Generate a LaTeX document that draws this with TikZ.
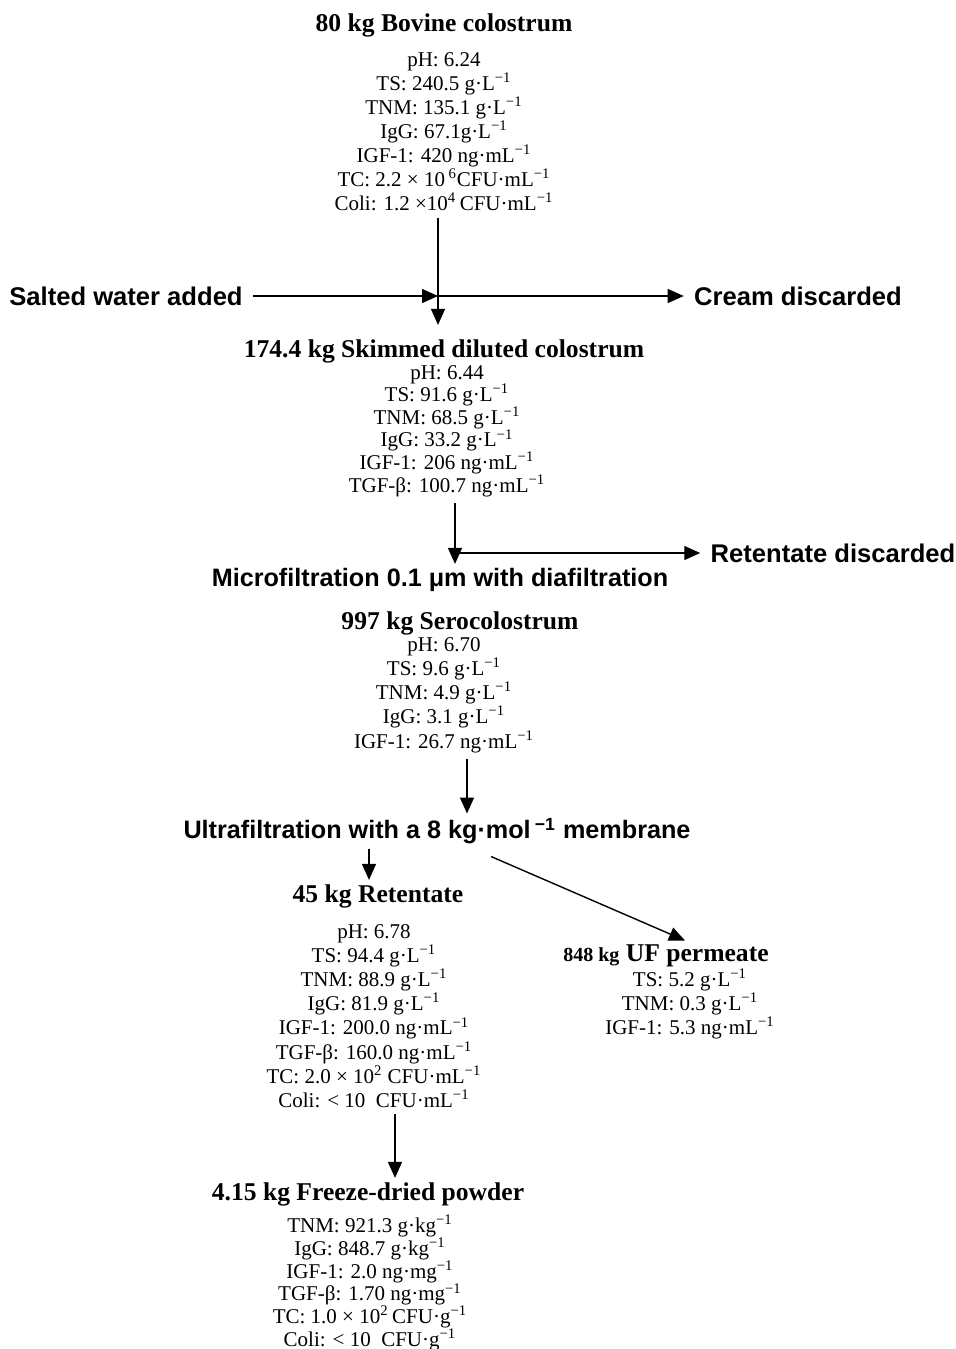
\documentclass[tikz,border=0pt]{standalone}
\usepackage{fontspec}
\setmainfont{Liberation Serif}
\setsansfont{Liberation Sans}
\usepackage{tikz}
\usetikzlibrary{arrows.meta}

\newcommand{\inv}{\textsuperscript{−1}}

\begin{document}
\begin{tikzpicture}
[x=0.5pt,y=-0.5pt,
 be/.style={draw=black,line width=0.7pt,arrows={-Triangle[length=8pt,width=7pt]}},
 hd/.style={font=\bfseries\fontsize{12.8}{14}\selectfont,inner sep=2pt},
 dat/.style={align=center,inner sep=3pt,font=\fontsize{10.5}{#1}\selectfont},
 dat/.default=12,
 side/.style={font=\sffamily\bfseries\fontsize{12.8}{14}\selectfont,inner sep=5pt},
 stage/.style={font=\sffamily\bfseries\fontsize{12.6}{14}\selectfont,inner sep=2pt}]
\useasboundingbox (0,0) rectangle (956,1349);

\node[hd] (bov) at (444,25) {80 kg Bovine colostrum};
\node[dat] (bovd) at (444,132) {pH: 6.24\\ TS: 240.5 g·L\inv\\ TNM: 135.1 g·L\inv\\
  IgG: 67.1g·L\inv\\ IGF-1: 420 ng·mL\inv\\ TC: 2.2 × 10\,\textsuperscript{6}CFU·mL\inv\\
  Coli: 1.2 ×10\textsuperscript{4}\,CFU·mL\inv};

\node[side] (salt) at (126,296) {Salted water added};
\node[side] (cream) at (798,296) {Cream discarded};
\coordinate (A) at (438,296);

\node[hd] (skim) at (444,351) {174.4 kg Skimmed diluted colostrum};
\node[dat=11.3] (skimd) at (447,431) {pH: 6.44\\ TS: 91.6 g·L\inv\\ TNM: 68.5 g·L\inv\\
  IgG: 33.2 g·L\inv\\ IGF-1: 206 ng·mL\inv\\ TGF-β: 100.7 ng·mL\inv};

\node[stage] (micro) at (440,580) {Microfiltration 0.1 μm with diafiltration};
\node[side] (retdis) at (833,553) {Retentate discarded};
\coordinate (B) at (455,553);

\node[hd] (sero) at (460,623) {997 kg Serocolostrum};
\node[dat=12.1] (serod) at (444,695) {pH: 6.70\\ TS: 9.6 g·L\inv\\ TNM: 4.9 g·L\inv\\
  IgG: 3.1 g·L\inv\\ IGF-1: 26.7 ng·mL\inv};

\node[stage] (ultra) at (437,831) {Ultrafiltration with a 8 kg·mol\,\textsuperscript{−1} membrane};
\coordinate (C) at (467,0);
\coordinate (D) at (369,0);

\node[hd] (ret) at (378,896) {45 kg Retentate};
\node[dat=12.1] (retd) at (374,1016) {pH: 6.78\\ TS: 94.4 g·L\inv\\ TNM: 88.9 g·L\inv\\
  IgG: 81.9 g·L\inv\\ IGF-1: 200.0 ng·mL\inv\\ TGF-β: 160.0 ng·mL\inv\\
  TC: 2.0 × 10\textsuperscript{2} CFU·mL\inv\\ Coli: < 10 \ CFU·mL\inv};

\node[hd,inner sep=0pt] (perm) at (666,956) {{\fontsize{10}{12}\selectfont 848 kg} UF permeate};
\node[dat=11,inner sep=0pt] (permd) at (690,1004) {TS: 5.2 g·L\inv\\ TNM: 0.3 g·L\inv\\ IGF-1: 5.3 ng·mL\inv};
\path (ultra.south) +(54,8) coordinate (UA);
\path (perm.north) +(19,-4) coordinate (PA);

\coordinate (E) at (395,0);
\node[hd] (pow) at (368,1194) {4.15 kg Freeze-dried powder};
\node[dat=11.4,inner sep=0pt] (powd) at (370,1283) {TNM: 921.3 g·kg\inv\\ IgG: 848.7 g·kg\inv\\
  IGF-1: 2.0 ng·mg\inv\\ TGF-β: 1.70 ng·mg\inv\\ TC: 1.0 × 10\textsuperscript{2}\,CFU·g\inv\\
  Coli: < 10 \ CFU·g\inv};

\draw[be] (salt) -- (A);
\draw[be] (A) -- (cream);
\draw[be,shorten >=5pt] (bovd.south -| A) -- (skim.north -| A);
\draw[be] (skimd.south -| B) -- (micro.north -| B);
\draw[be] (B) -- (retdis);
\draw[be] (serod.south -| C) -- (ultra.north -| C);
\draw[be] (ultra.south -| D) -- (ret.north -| D);
\draw[be] (UA) -- (PA);
\draw[be] (retd.south -| E) -- (pow.north -| E);

\end{tikzpicture}
\end{document}
